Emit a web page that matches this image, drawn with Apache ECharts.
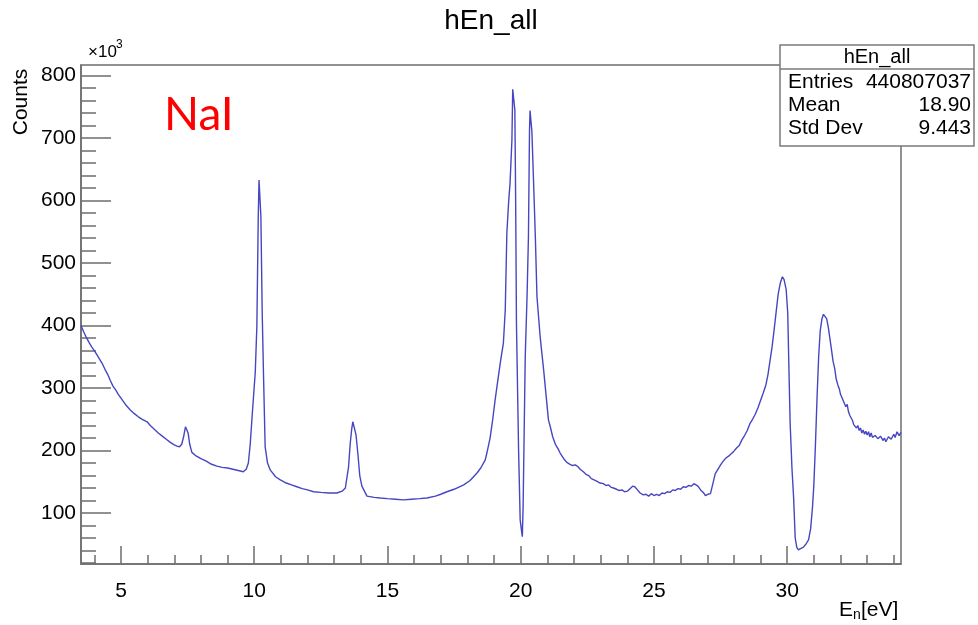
<!DOCTYPE html>
<html>
<head>
<meta charset="utf-8">
<script src="https://cdn.jsdelivr.net/npm/echarts@6/dist/echarts.min.js"></script>
<style>html,body{margin:0;padding:0;background:#fff}#c{width:978px;height:625px}</style>
</head>
<body>
<div id="c"></div>
<script>
// Energy (eV) and counts (x10^3)
const energy = [
 3.5,3.6,3.7,3.8,3.9,4.0,4.1,4.2,4.3,4.4,4.5,4.6,4.7,4.8,4.9,5.0,5.1,5.2,5.35,5.5,5.65,5.8,5.98,6.1,6.25,6.4,6.55,6.7,6.85,7.0,7.1,7.2,7.28,7.35,7.42,7.47,7.52,7.58,7.66,7.8,8.0,8.2,8.4,8.6,8.8,9.0,9.2,9.4,9.59,9.7,9.78,9.85,9.92,9.98,10.04,10.1,10.15,10.18,10.22,10.25,10.3,10.35,10.41,10.5,10.6,10.8,10.98,11.2,11.4,11.6,11.8,12.0,12.23,12.5,12.8,13.1,13.3,13.42,13.54,13.6,13.66,13.7,13.76,13.82,13.9,13.96,14.04,14.23,14.5,14.73,15.0,15.3,15.6,15.9,16.2,16.48,16.8,17.0,17.23,17.5,17.7,17.86,18.1,18.36,18.5,18.67,18.73,18.85,18.95,19.04,19.15,19.25,19.35,19.42,19.48,19.55,19.6,19.67,19.7,19.74,19.78,19.81,19.84,19.92,19.98,20.02,20.06,20.09,20.12,20.17,20.24,20.29,20.33,20.35,20.39,20.42,20.48,20.55,20.61,20.73,20.86,21.04,21.11,21.2,21.3,21.4,21.48,21.55,21.63,21.73,21.85,21.95,22.05,22.15,22.23,22.35,22.45,22.55,22.65,22.75,22.85,22.98,23.1,23.2,23.3,23.4,23.48,23.6,23.7,23.8,23.9,24.0,24.1,24.2,24.28,24.38,24.48,24.6,24.7,24.8,24.9,25.0,25.1,25.2,25.3,25.4,25.5,25.6,25.7,25.8,25.9,26.0,26.1,26.2,26.3,26.4,26.5,26.57,26.65,26.75,26.85,26.93,27.02,27.12,27.2,27.3,27.4,27.5,27.6,27.7,27.8,27.9,28.0,28.1,28.2,28.3,28.4,28.5,28.6,28.7,28.8,28.9,29.0,29.1,29.2,29.28,29.36,29.43,29.5,29.58,29.66,29.74,29.82,29.88,29.96,30.02,30.06,30.11,30.18,30.24,30.3,30.36,30.42,30.5,30.6,30.7,30.8,30.88,30.95,31.0,31.06,31.12,31.18,31.24,31.3,31.36,31.42,31.48,31.54,31.6,31.66,31.72,31.78,31.84,31.9,31.96,32.0,32.05,32.1,32.15,32.2,32.25,32.3,32.35,32.4,32.45,32.5,32.55,32.6,32.65,32.7,32.75,32.8,32.85,32.9,32.95,33.0,33.05,33.1,33.15,33.2,33.3,33.4,33.5,33.6,33.65,33.7,33.8,33.9,34.0,34.05,34.12,34.2,34.27
];
const counts = [
 400,390,381,373,366,360,353,346,339,330,322,312,303,297,290,284,278,272,265,259,254,250,246,240,234,228,223,218,213,209,207,206,210,222,238,240,228,210,197,192,187,183,178,175,173,172,170,168,166,170,180,210,254,290,326,400,570,633,633,575,420,318,206,180,169,158,153,148,145,142,139,137,134,133,132,132,135,140,174,210,235,246,246,225,190,160,143,127,125,124,123,122,121,122,123,124,127,130,134,138,142,145,152,164,172,185,196,220,250,281,315,345,372,425,548,600,628,697,778,778,745,600,404,201,89,75,62,110,201,350,450,542,713,744,744,710,633,540,446,382,329,249,238,222,210,203,196,193,186,181,178,176,177,174,170,166,162,160,155,153,151,148,147,144,145,141,140,138,136,137,134,135,139,143,142,137,132,129,130,127,131,128,130,128,132,131,134,133,137,136,139,138,142,141,144,143,147,148,143,137,133,128,130,131,145,163,170,177,183,188,191,195,199,204,208,217,224,232,243,250,258,268,280,292,305,322,345,365,390,420,450,468,478,474,458,420,340,244,170,125,60,45,41,43,45,50,57,75,110,145,210,285,350,392,410,418,418,411,398,380,362,343,332,314,305,298,290,293,280,283,270,274,262,256,252,248,241,244,236,240,232,236,228,233,226,231,225,230,222,228,221,224,219,223,216,220,214,222,218,226,221,230,224,229
];
const xTickLabels = [5, 10, 15, 20, 25, 30];
const xMinorTicks = [4, 6, 7, 8, 9, 11, 12, 13, 14, 16, 17, 18, 19, 21, 22, 23, 24, 26, 27, 28, 29, 31, 32, 33, 34];
const yTickLabels = [100, 200, 300, 400, 500, 600, 700, 800];
const yMinorTicks = [20, 40, 60, 80, 120, 140, 160, 180, 220, 240, 260, 280, 320, 340, 360, 380, 420, 440, 460, 480, 520, 540, 560, 580, 620, 640, 660, 680, 720, 740, 760, 780];

const X_MIN = 3.5, X_MAX = 34.27, Y_MIN = 18.4, Y_MAX = 817;
const FONT = '"Liberation Sans", Arial, sans-serif';
const AX = '#6e6e6e';

const chart = echarts.init(document.getElementById('c'), null, {renderer: 'canvas'});
const data = energy.map((e, i) => [e, counts[i]]);

const baseX = {
  type: 'value', min: X_MIN, max: X_MAX, position: 'bottom',
  axisLine: {onZero: false}, splitLine: {show: false}
};
const baseY = {
  type: 'value', min: Y_MIN, max: Y_MAX, position: 'left',
  axisLine: {onZero: false}, splitLine: {show: false}
};

chart.setOption({
  animation: false,
  backgroundColor: '#ffffff',
  grid: {
    left: 81, right: 77, top: 65, bottom: 61,
    show: true, borderColor: AX, borderWidth: 1.5, backgroundColor: 'transparent',
    outerBoundsMode: 'none'
  },
  xAxis: [
    Object.assign({}, baseX, {
      axisLine: {show: true, onZero: false, lineStyle: {color: AX, width: 1.5}},
      axisTick: {show: true, inside: true, length: 18, lineStyle: {color: AX, width: 1.5}, customValues: xTickLabels},
      axisLabel: {show: true, margin: 17, color: '#000', fontFamily: FONT, fontSize: 21, customValues: xTickLabels}
    }),
    Object.assign({}, baseX, {
      axisLine: {show: false, onZero: false},
      axisTick: {show: true, inside: true, length: 9, lineStyle: {color: AX, width: 1.5}, customValues: xMinorTicks},
      axisLabel: {show: false}
    })
  ],
  yAxis: [
    Object.assign({}, baseY, {
      axisLine: {show: true, onZero: false, lineStyle: {color: AX, width: 1.5}},
      axisTick: {show: true, inside: true, length: 30, lineStyle: {color: AX, width: 1.5}, customValues: yTickLabels},
      axisLabel: {show: true, margin: 5, color: '#000', fontFamily: FONT, fontSize: 21, customValues: yTickLabels}
    }),
    Object.assign({}, baseY, {
      axisLine: {show: false, onZero: false},
      axisTick: {show: true, inside: true, length: 15, lineStyle: {color: AX, width: 1.5}, customValues: yMinorTicks},
      axisLabel: {show: false}
    })
  ],
  series: [{
    type: 'line', xAxisIndex: 0, yAxisIndex: 0,
    data: data, showSymbol: false, symbol: 'none', clip: true,
    lineStyle: {color: '#4646c2', width: 1.4},
    z: 3
  }],
  graphic: [
    {type: 'text', z: 100, style: {x: 491, y: 21, text: 'hEn_all', fill: '#000', font: '28px ' + FONT, textAlign: 'center', textVerticalAlign: 'middle'}},
    {type: 'text', z: 100, style: {x: 88, y: 52, text: '\u00d710', fill: '#000', font: '17px ' + FONT, textAlign: 'left', textVerticalAlign: 'middle'}},
    {type: 'text', z: 100, style: {x: 116, y: 45, text: '3', fill: '#000', font: '12px ' + FONT, textAlign: 'left', textVerticalAlign: 'middle'}},
    {type: 'text', z: 100, x: 21, y: 102, rotation: Math.PI / 2, style: {x: 0, y: 0, text: 'Counts', fill: '#000', font: '21px ' + FONT, textAlign: 'center', textVerticalAlign: 'middle'}},
    {type: 'text', z: 100, style: {x: 164, y: 115, text: 'NaI', fill: '#ff0000', font: '46px Lato, "Open Sans", sans-serif', textAlign: 'left', textVerticalAlign: 'middle'}},
    {type: 'text', z: 100, style: {x: 839, y: 610, text: 'E', fill: '#000', font: '21px ' + FONT, textAlign: 'left', textVerticalAlign: 'middle'}},
    {type: 'text', z: 100, style: {x: 853, y: 615, text: 'n', fill: '#000', font: '14px ' + FONT, textAlign: 'left', textVerticalAlign: 'middle'}},
    {type: 'text', z: 100, style: {x: 861, y: 610, text: '[eV]', fill: '#000', font: '21px ' + FONT, textAlign: 'left', textVerticalAlign: 'middle'}},
    {type: 'rect', z: 100, shape: {x: 780, y: 45, width: 194, height: 101}, style: {fill: '#fff', stroke: '#7a7a7a', lineWidth: 1.5}},
    {type: 'line', z: 101, shape: {x1: 780, y1: 69, x2: 974, y2: 69}, style: {stroke: '#7a7a7a', lineWidth: 1.5}},
    {type: 'text', z: 101, style: {x: 877, y: 57, text: 'hEn_all', fill: '#000', font: '20px ' + FONT, textAlign: 'center', textVerticalAlign: 'middle'}},
    {type: 'text', z: 101, style: {x: 788, y: 82, text: 'Entries', fill: '#000', font: '21px ' + FONT, textAlign: 'left', textVerticalAlign: 'middle'}},
    {type: 'text', z: 101, style: {x: 971, y: 82, text: '440807037', fill: '#000', font: '21px ' + FONT, textAlign: 'right', textVerticalAlign: 'middle'}},
    {type: 'text', z: 101, style: {x: 788, y: 105, text: 'Mean', fill: '#000', font: '21px ' + FONT, textAlign: 'left', textVerticalAlign: 'middle'}},
    {type: 'text', z: 101, style: {x: 971, y: 105, text: '18.90', fill: '#000', font: '21px ' + FONT, textAlign: 'right', textVerticalAlign: 'middle'}},
    {type: 'text', z: 101, style: {x: 788, y: 128, text: 'Std Dev', fill: '#000', font: '21px ' + FONT, textAlign: 'left', textVerticalAlign: 'middle'}},
    {type: 'text', z: 101, style: {x: 971, y: 128, text: '9.443', fill: '#000', font: '21px ' + FONT, textAlign: 'right', textVerticalAlign: 'middle'}}
  ]
});
</script>
</body>
</html>
